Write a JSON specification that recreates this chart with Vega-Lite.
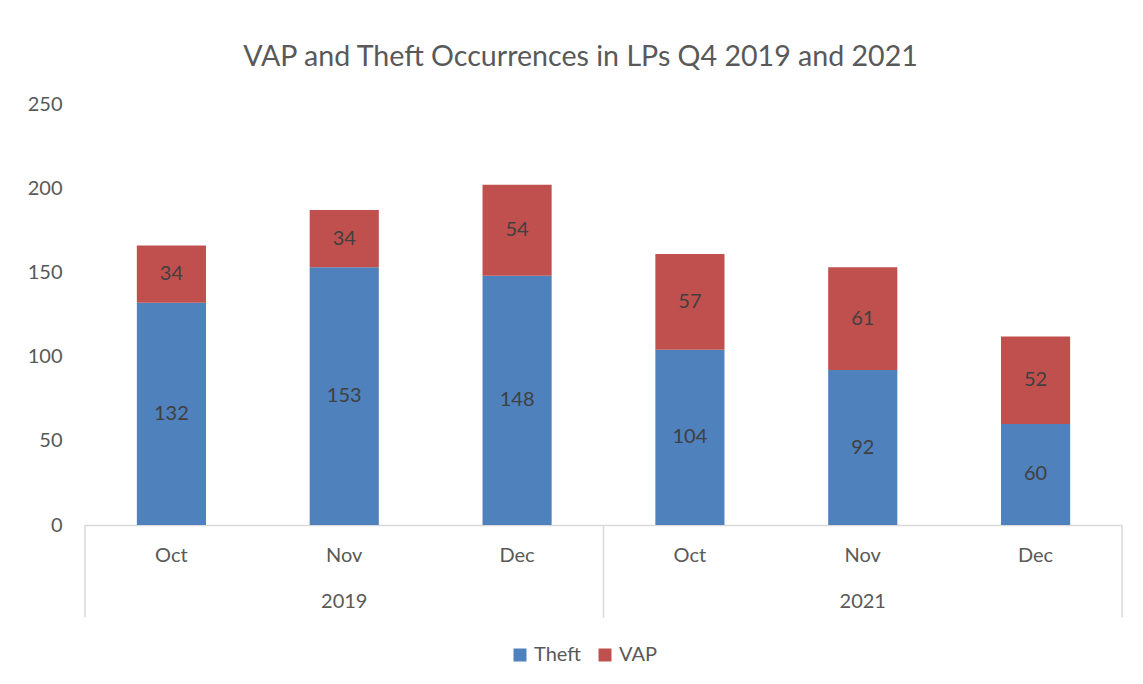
{
  "$schema": "https://vega.github.io/schema/vega-lite/v6.json",
  "autosize": {"type": "none"},
  "width": 1037,
  "height": 421,
  "padding": {"left": 85, "top": 104, "right": 21, "bottom": 159},
  "background": "white",
  "config": {
    "font": "Lato",
    "view": {"stroke": null}
  },
  "title": {
    "text": "VAP and Theft Occurrences in LPs Q4 2019 and 2021",
    "font": "Lato",
    "fontSize": 28.6,
    "fontWeight": "normal",
    "color": "#595959",
    "anchor": "middle",
    "dx": -23,
    "offset": 22
  },
  "datasets": {
    "bars": [
      {"year": "2019", "month": "Oct", "k": "2019|Oct", "series": "Theft", "value": 132},
      {"year": "2019", "month": "Oct", "k": "2019|Oct", "series": "VAP", "value": 34},
      {"year": "2019", "month": "Nov", "k": "2019|Nov", "series": "Theft", "value": 153},
      {"year": "2019", "month": "Nov", "k": "2019|Nov", "series": "VAP", "value": 34},
      {"year": "2019", "month": "Dec", "k": "2019|Dec", "series": "Theft", "value": 148},
      {"year": "2019", "month": "Dec", "k": "2019|Dec", "series": "VAP", "value": 54},
      {"year": "2021", "month": "Oct", "k": "2021|Oct", "series": "Theft", "value": 104},
      {"year": "2021", "month": "Oct", "k": "2021|Oct", "series": "VAP", "value": 57},
      {"year": "2021", "month": "Nov", "k": "2021|Nov", "series": "Theft", "value": 92},
      {"year": "2021", "month": "Nov", "k": "2021|Nov", "series": "VAP", "value": 61},
      {"year": "2021", "month": "Dec", "k": "2021|Dec", "series": "Theft", "value": 60},
      {"year": "2021", "month": "Dec", "k": "2021|Dec", "series": "VAP", "value": 52}
    ],
    "years": [
      {"k": "2019|Nov", "label": "2019"},
      {"k": "2021|Nov", "label": "2021"}
    ],
    "sepLeft": [
      {"k": "2019|Oct"},
      {"k": "2021|Oct"}
    ],
    "sepRight": [
      {"k": "2021|Dec"}
    ]
  },
  "encoding": {
    "x": {
      "field": "k",
      "type": "nominal",
      "scale": {
        "domain": ["2019|Oct", "2019|Nov", "2019|Dec", "2021|Oct", "2021|Nov", "2021|Dec"],
        "paddingInner": 0.6,
        "paddingOuter": 0.3
      },
      "axis": {
        "title": null,
        "labelExpr": "split(datum.label, '|')[1]",
        "labelAngle": 0,
        "labelFont": "Lato",
        "labelFontSize": 20,
        "labelColor": "#595959",
        "labelPadding": 20,
        "ticks": false,
        "domainColor": "#D9D9D9",
        "domainWidth": 1.5
      }
    }
  },
  "layer": [
    {
      "data": {"name": "bars"},
      "mark": {"type": "bar"},
      "encoding": {
        "y": {
          "field": "value",
          "type": "quantitative",
          "stack": "zero",
          "scale": {"domain": [0, 250], "nice": false},
          "axis": {
            "title": null,
            "values": [0, 50, 100, 150, 200, 250],
            "grid": false,
            "domain": false,
            "ticks": false,
            "labelFont": "Lato",
            "labelFontSize": 20,
            "labelColor": "#595959",
            "labelPadding": 23
          }
        },
        "color": {
          "field": "series",
          "type": "nominal",
          "scale": {"domain": ["Theft", "VAP"], "range": ["#4F81BD", "#C0504D"]},
          "legend": {
            "title": null,
            "orient": "none",
            "direction": "horizontal",
            "legendX": 425,
            "legendY": 541,
            "symbolType": "square",
            "symbolSize": 169,
            "symbolStrokeWidth": 0,
            "labelFont": "Lato",
            "labelFontSize": 20,
            "labelColor": "#595959",
            "labelOffset": 4,
            "columnPadding": 14
          }
        },
        "order": {"field": "series", "sort": "ascending"}
      }
    },
    {
      "data": {"name": "bars"},
      "mark": {"type": "text", "font": "Lato", "fontSize": 20, "color": "#404040", "baseline": "middle"},
      "encoding": {
        "y": {"field": "value", "type": "quantitative", "stack": "zero", "bandPosition": 0.5},
        "text": {"field": "value", "type": "quantitative"},
        "detail": {"field": "series"},
        "order": {"field": "series", "sort": "ascending"}
      }
    },
    {
      "data": {"name": "years"},
      "mark": {"type": "text", "font": "Lato", "fontSize": 20, "color": "#595959", "baseline": "middle"},
      "encoding": {
        "y": {"datum": -46},
        "text": {"field": "label"}
      }
    },
    {
      "data": {"name": "sepLeft"},
      "mark": {"type": "rule", "color": "#D9D9D9", "strokeWidth": 1.5},
      "encoding": {
        "x": {"field": "k", "type": "nominal", "bandPosition": -0.75},
        "y": {"datum": 0},
        "y2": {"datum": -55}
      }
    },
    {
      "data": {"name": "sepRight"},
      "mark": {"type": "rule", "color": "#D9D9D9", "strokeWidth": 1.5},
      "encoding": {
        "x": {"field": "k", "type": "nominal", "bandPosition": 1.75},
        "y": {"datum": 0},
        "y2": {"datum": -55}
      }
    }
  ]
}
